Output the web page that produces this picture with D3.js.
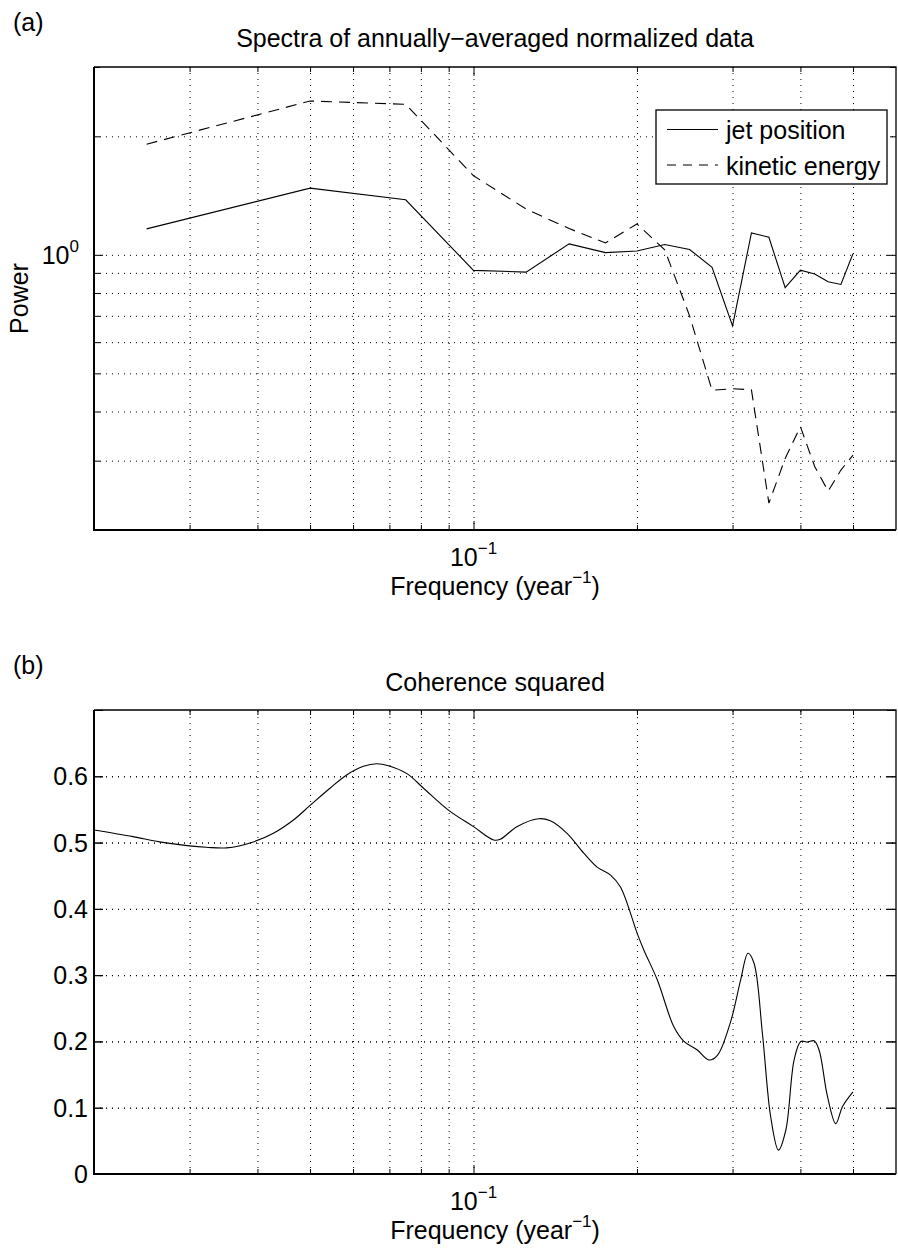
<!DOCTYPE html>
<html>
<head>
<meta charset="utf-8">
<script src="https://cdn.jsdelivr.net/npm/d3@7"></script>
<style>
  body { margin: 0; background: #fff; }
  svg text { font-family: "Liberation Sans", Arial, Helvetica, sans-serif; fill: #000; font-size: 25px; }
  .grid line { stroke: #000; stroke-width: 1; stroke-dasharray: 1,5; }
  .grid path, .ticks path { display: none; }
  .ticks line { stroke: #000; stroke-width: 1; }
</style>
</head>
<body>
<svg id="chart" width="898" height="1252"></svg>
<script>
// spectra, panel (a)
var freqs = [0.025, 0.05, 0.075, 0.1, 0.125, 0.15, 0.175, 0.2, 0.225, 0.25,
             0.275, 0.3, 0.325, 0.35, 0.375, 0.4, 0.425, 0.45, 0.475, 0.5];
var jetPosition = [1.164, 1.477, 1.38, 0.913, 0.904, 1.066, 1.013, 1.023, 1.062, 1.032,
                   0.930, 0.660, 1.137, 1.108, 0.825, 0.914, 0.894, 0.854, 0.841, 1.007];
var kineticEnergy = [1.91, 2.459, 2.412, 1.588, 1.307, 1.166, 1.072, 1.198, 1.03, 0.70,
                     0.453, 0.457, 0.454, 0.234, 0.304, 0.366, 0.290, 0.251, 0.284, 0.310];

// coherence squared, panel (b)
var cohFreq = [0.0200, 0.0236, 0.0264, 0.0300, 0.0322, 0.0351, 0.0393, 0.0428, 0.0466, 0.0500,
               0.0544, 0.0584, 0.0627, 0.0663, 0.0697, 0.0754, 0.0809, 0.0899, 0.1000, 0.1089,
               0.1120, 0.1202, 0.1318, 0.1385, 0.1487, 0.1596, 0.1689, 0.1788, 0.1865, 0.2002,
               0.2059, 0.2180, 0.2339, 0.2441, 0.2584, 0.2714, 0.2813, 0.2976, 0.3105, 0.3203,
               0.3286, 0.3405, 0.3527, 0.3645, 0.3760, 0.3895, 0.4007, 0.4120, 0.4240, 0.4330,
               0.4487, 0.4648, 0.4783, 0.5000];
var cohValue = [0.519, 0.509, 0.501, 0.495, 0.493, 0.492, 0.501, 0.514, 0.534, 0.556,
                0.582, 0.602, 0.615, 0.619, 0.616, 0.604, 0.582, 0.549, 0.524, 0.504,
                0.505, 0.524, 0.536, 0.533, 0.514, 0.484, 0.463, 0.451, 0.433, 0.363,
                0.338, 0.293, 0.222, 0.200, 0.187, 0.172, 0.179, 0.230, 0.293, 0.333,
                0.318, 0.212, 0.086, 0.036, 0.066, 0.172, 0.200, 0.199, 0.201, 0.187,
                0.117, 0.076, 0.102, 0.124];

// ticks
var xDomain = [0.02, 0.6];
var xGridTicks = [0.03, 0.04, 0.05, 0.06, 0.07, 0.08, 0.09, 0.1, 0.2, 0.3, 0.4, 0.5];
var xMajorTicks = [0.1];
var yDomainA = [0.2, 3];
var yGridTicksA = [0.3, 0.4, 0.5, 0.6, 0.7, 0.8, 0.9, 1, 2];
var yMajorTicksA = [1];
var yDomainB = [0, 0.7];
var yTicksB = [0, 0.1, 0.2, 0.3, 0.4, 0.5, 0.6, 0.7];
var yTickLabelsB = ['0', '0.1', '0.2', '0.3', '0.4', '0.5', '0.6', ''];

var svg = d3.select('#chart');
var left = 94, right = 896;

function drawFrame(g, x, y, top, bottom, xMinor, xMajor, yMinor, yMajor) {
  var h = bottom - top, w = right - left;

  // dotted grid
  g.append('g').attr('class', 'grid')
    .attr('transform', 'translate(0,' + bottom + ')')
    .call(d3.axisBottom(x).tickValues(xGridTicks).tickSize(-h).tickFormat(''));
  g.append('g').attr('class', 'grid')
    .attr('transform', 'translate(' + left + ',0)')
    .call(d3.axisLeft(y).tickValues(yMinor.concat(yMajor).filter(function(v) {
      return y(v) > top + 1 && y(v) < bottom - 1;
    })).tickSize(-w).tickFormat(''));

  // inward ticks on all four sides
  function ticks(axis, tr, vals, len) {
    g.append('g').attr('class', 'ticks').attr('transform', tr)
      .call(axis.tickValues(vals).tickSize(-len).tickFormat(''));
  }
  ticks(d3.axisBottom(x), 'translate(0,' + bottom + ')', xMinor, 5);
  ticks(d3.axisBottom(x), 'translate(0,' + bottom + ')', xMajor, 9);
  ticks(d3.axisTop(x), 'translate(0,' + top + ')', xMinor, 5);
  ticks(d3.axisTop(x), 'translate(0,' + top + ')', xMajor, 9);
  ticks(d3.axisLeft(y), 'translate(' + left + ',0)', yMinor, yMinor === yMajor ? 9 : 6);
  ticks(d3.axisLeft(y), 'translate(' + left + ',0)', yMajor, 9);
  ticks(d3.axisRight(y), 'translate(' + right + ',0)', yMinor, yMinor === yMajor ? 9 : 6);
  ticks(d3.axisRight(y), 'translate(' + right + ',0)', yMajor, 9);

  // box
  g.append('path')
    .attr('d', 'M' + left + ',' + top + 'H' + right + 'V' + bottom)
    .attr('fill', 'none').attr('stroke', '#000').attr('stroke-width', 1.3);
  g.append('path')
    .attr('d', 'M' + left + ',' + top + 'V' + bottom + 'H' + right)
    .attr('fill', 'none').attr('stroke', '#000').attr('stroke-width', 2);

  // x tick label 10^-1 and x label
  var t = g.append('text').attr('x', x(0.1)).attr('y', bottom + 36)
    .attr('text-anchor', 'middle');
  t.append('tspan').text('10');
  t.append('tspan').attr('dy', -12).style('font-size', '17px').text('\u22121');

  var xl = g.append('text').attr('x', (left + right) / 2).attr('y', bottom + 65)
    .attr('text-anchor', 'middle');
  xl.append('tspan').text('Frequency (year');
  xl.append('tspan').attr('dy', -12).style('font-size', '17px').text('\u22121');
  xl.append('tspan').attr('dy', 12).text(')');
}

var line = function(x, y) {
  return d3.line().x(function(d) { return x(d[0]); }).y(function(d) { return y(d[1]); });
};

// ---------- panel (a) ----------
var topA = 67, bottomA = 530;
var xA = d3.scaleLog().domain(xDomain).range([left, right]);
var yA = d3.scaleLog().domain(yDomainA).range([bottomA, topA]);
var gA = svg.append('g');
drawFrame(gA, xA, yA, topA, bottomA, xGridTicks.filter(function(v) { return v !== 0.1; }), xMajorTicks,
          yGridTicksA.filter(function(v) { return v !== 1; }).concat([3]), yMajorTicksA);

var jetData = d3.zip(freqs, jetPosition);
var keData = d3.zip(freqs, kineticEnergy);
gA.append('path').datum(jetData).attr('d', line(xA, yA))
  .attr('fill', 'none').attr('stroke', '#000').attr('stroke-width', 1.1);
gA.append('path').datum(keData).attr('d', line(xA, yA))
  .attr('fill', 'none').attr('stroke', '#000').attr('stroke-width', 1.1)
  .attr('stroke-dasharray', '11,7');

// y tick label 10^0
var yt = gA.append('text').attr('x', 79).attr('y', yA(1) + 9)
  .attr('text-anchor', 'end');
yt.append('tspan').text('10');
yt.append('tspan').attr('dy', -12).style('font-size', '17px').text('0');

gA.append('text').attr('transform', 'translate(28,' + (topA + bottomA) / 2 + ') rotate(-90)')
  .attr('text-anchor', 'middle').text('Power');
gA.append('text').attr('x', (left + right) / 2).attr('y', topA - 20)
  .attr('text-anchor', 'middle')
  .text('Spectra of annually\u2212averaged normalized data');
gA.append('text').attr('x', 13).attr('y', 31).text('(a)');

// legend
var lg = gA.append('g');
lg.append('rect').attr('x', 656).attr('y', 110).attr('width', 231).attr('height', 74)
  .attr('fill', '#fff').attr('stroke', '#000').attr('stroke-width', 1.3);
lg.append('line').attr('x1', 667).attr('x2', 718).attr('y1', 129.5).attr('y2', 129.5)
  .attr('stroke', '#000').attr('stroke-width', 1.1);
lg.append('line').attr('x1', 667).attr('x2', 718).attr('y1', 165).attr('y2', 165)
  .attr('stroke', '#000').attr('stroke-width', 1.1).attr('stroke-dasharray', '9,7');
lg.append('text').attr('x', 726).attr('y', 139).text('jet position');
lg.append('text').attr('x', 726).attr('y', 175).text('kinetic energy');

// ---------- panel (b) ----------
var topB = 710, bottomB = 1174;
var xB = d3.scaleLog().domain(xDomain).range([left, right]);
var yB = d3.scaleLinear().domain(yDomainB).range([bottomB, topB]);
var gB = svg.append('g');
drawFrame(gB, xB, yB, topB, bottomB, xGridTicks.filter(function(v) { return v !== 0.1; }), xMajorTicks,
          yTicksB, yTicksB);

gB.append('path').datum(d3.zip(cohFreq, cohValue))
  .attr('d', line(xB, yB).curve(d3.curveCatmullRom.alpha(0.5)))
  .attr('fill', 'none').attr('stroke', '#000').attr('stroke-width', 1.1);

gB.selectAll('.ylab').data(d3.zip(yTicksB, yTickLabelsB)).enter()
  .append('text').attr('class', 'ylab')
  .attr('x', 88).attr('y', function(d) { return yB(d[0]) + 9; })
  .attr('text-anchor', 'end')
  .text(function(d) { return d[1]; });

gB.append('text').attr('x', (left + right) / 2).attr('y', topB - 19)
  .attr('text-anchor', 'middle').text('Coherence squared');
gB.append('text').attr('x', 13).attr('y', 674).text('(b)');
</script>
</body>
</html>
